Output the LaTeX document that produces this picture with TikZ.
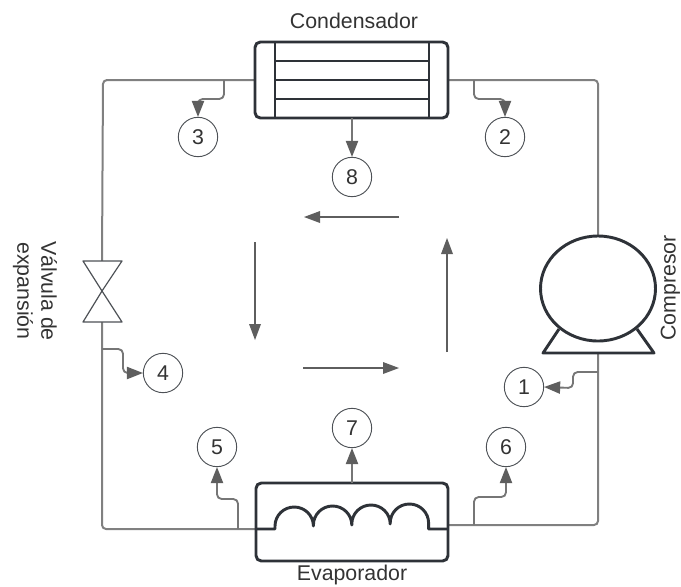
\documentclass[tikz,border=0pt]{standalone}
\usepackage{fontspec}
\setmainfont{Liberation Sans}
\usetikzlibrary{arrows.meta}
\definecolor{pipe}{HTML}{808080}
\definecolor{dark}{HTML}{2E3238}
\definecolor{arrowc}{HTML}{5E5E5E}
\definecolor{txt}{HTML}{333333}
\tikzset{
  pipeline/.style={draw=pipe,line width=1.5pt,rounded corners=3pt},
  equip/.style={draw=dark,line width=2.2pt,line join=round},
  tap/.style={draw=pipe!70!arrowc,line width=1.4pt,rounded corners=3.5pt,-{Triangle[length=12pt,width=9.5pt,fill=arrowc,color=arrowc,line width=0pt]}},
  flow/.style={draw=arrowc,line width=1.3pt,-{Triangle[length=12pt,width=9pt,fill=arrowc,color=arrowc,line width=0pt]}},
  num/.style={circle,draw=dark!85,line width=0.7pt,fill=white,minimum size=29.5pt,inner sep=0pt,font=\fontsize{16}{16}\selectfont,text=txt},
  lab/.style={inner sep=0pt,font=\fontsize{16}{18}\selectfont,text=txt,align=center},
}
\begin{document}
\begin{tikzpicture}[x=0.75pt,y=-0.75pt]
\useasboundingbox (0,0) rectangle (681,586);
% anchors of the main circuit
\coordinate (condL) at (255,80);
\coordinate (condR) at (448,80);
\coordinate (compT) at (598,236);
\coordinate (compB) at (598,354);
\coordinate (evapL) at (256,529);
\coordinate (evapR) at (448,525);
\coordinate (valveT) at (102,261);
\coordinate (valveB) at (102,322);
% pipes
\draw[pipeline] (condL) -- (103,80) -- (valveT);
\draw[pipeline] (valveB) -- (102,529) -- (evapL);
\draw[pipeline] (condR) -- (598,80) -- (compT);
\draw[pipeline] (compB) -- (598,525) -- (evapR);
% numbered nodes
\node[num] (n1) at (524,387) {1};
\node[num] (n2) at (505,137) {2};
\node[num] (n3) at (198,137) {3};
\node[num] (n4) at (163,373) {4};
\node[num] (n5) at (217,447) {5};
\node[num] (n6) at (506,447) {6};
\node[num] (n7) at (352,428) {7};
\node[num] (n8) at (352,177) {8};
% condenser
\draw[equip,fill=white,rounded corners=4pt] (255,42) rectangle (448,118);
\draw[equip] (275,42) -- (275,118) (429,42) -- (429,118)
  (275,61) -- (429,61) (275,80) -- (429,80) (275,99) -- (429,99);
% evaporator
\draw[equip,fill=white,rounded corners=4pt] (256,483) rectangle (448,561);
\draw[equip] (256,529) -- (275,529) -- (275,526)
  arc[start angle=180,end angle=360,x radius=19.2,y radius=19]
  -- ++(0,-1)
  arc[start angle=180,end angle=360,x radius=19.2,y radius=19]
  -- ++(0,-1)
  arc[start angle=180,end angle=360,x radius=19.2,y radius=19]
  -- ++(0,-1)
  arc[start angle=180,end angle=360,x radius=19.2,y radius=19]
  -- (428.6,529) -- (448,529);
% compressor
\draw[equip] (559,329) -- (543,353) -- (654,353) -- (637,329);
\draw[equip,fill=white] (598,288.5) ellipse[x radius=57.5,y radius=52.5];
% valve
\draw[draw=dark!85,line width=0.9pt,line join=round,fill=white] (83,261) -- (122,261) -- (102,291) -- (122,322) -- (83,322) -- (102,291) -- cycle;
% tapping connectors
\coordinate (t1) at (598,372);
\coordinate (t2) at (474,80);
\coordinate (t3) at (224,80);
\coordinate (t4) at (102,349);
\coordinate (t5) at (238,529);
\coordinate (t6) at (474,525);
\coordinate (t7) at (352,483);
\coordinate (t8) at (352,118);
\draw[tap] (t1) -- (573,372) -- (573,388) -- (n1.east);
\draw[tap] (t2) -- (474,99) -- (505,99) -- (n2.north);
\draw[tap] (t3) -- (224,99) -- (198,99) -- (n3.north);
\draw[tap] (t4) -- (123,349) -- (123,373) -- (n4.west);
\draw[tap] (t5) -- (238,499) -- (217,499) -- (n5.south);
\draw[tap] (t6) -- (474,497) -- (506,497) -- (n6.south);
\draw[tap] (t7) -- (n7.south);
\draw[tap] (t8) -- (n8.north);
% cycle arrows
\coordinate (a1) at (399,217); \coordinate (a2) at (304,217);
\coordinate (b1) at (255,242); \coordinate (b2) at (255,340);
\coordinate (c1) at (303,368); \coordinate (c2) at (399,368);
\coordinate (d1) at (447,352); \coordinate (d2) at (447,238);
\draw[flow] (a1) -- (a2);
\draw[flow] (b1) -- (b2);
\draw[flow] (c1) -- (c2);
\draw[flow] (d1) -- (d2);
% labels
\node[lab] (lcond) at (354,21) {Condensador};
\node[lab] (levap) at (352,575) {Evaporador};
\node[lab,rotate=-90] (lvalve) at (35,291) {Válvula de\\expansión};
\node[lab,rotate=90] (lcomp) at (670.5,288) {Compresor};
\end{tikzpicture}
\end{document}
